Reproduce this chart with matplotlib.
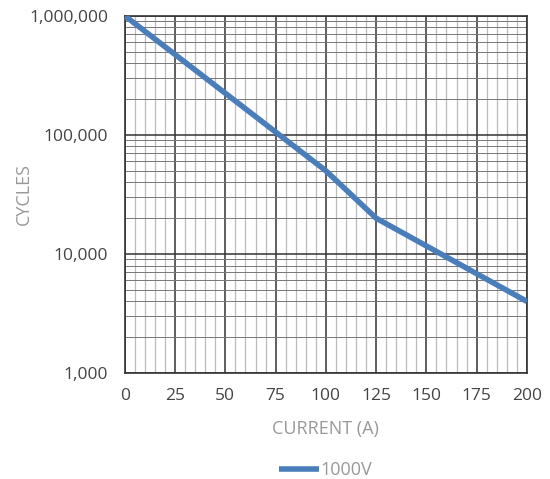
import numpy as np
import matplotlib.pyplot as plt
from matplotlib.ticker import FixedLocator, LogLocator, NullFormatter, FuncFormatter

plt.rcParams['font.family'] = ['Open Sans', 'DejaVu Sans']

# data
current = [0, 100, 125, 200]
cycles = [1000000, 50000, 20000, 4000]
series_name = '1000V'
x_ticks = [0, 25, 50, 75, 100, 125, 150, 175, 200]
y_ticks = [1000, 10000, 100000, 1000000]

fig = plt.figure(figsize=(5.5, 4.79), dpi=100)
ax = fig.add_axes([0.227, 0.221, 0.731, 0.746])

ax.plot(current, cycles, color='#4a7ebb', linewidth=4, solid_capstyle='butt',
        label=series_name, zorder=5)

ax.set_yscale('log')
ax.set_xlim(0, 200)
ax.set_ylim(1000, 1000000)

ax.xaxis.set_major_locator(FixedLocator(x_ticks))
ax.xaxis.set_minor_locator(FixedLocator(np.arange(0, 201, 5)))
ax.yaxis.set_major_locator(FixedLocator(y_ticks))
ax.yaxis.set_minor_locator(LogLocator(base=10, subs=np.arange(2, 10)))
ax.yaxis.set_minor_formatter(NullFormatter())
ax.yaxis.set_major_formatter(FuncFormatter(lambda v, p: f'{int(round(v)):,}'))

ax.grid(True, which='major', axis='both', color='#333333', linewidth=1.1)
ax.grid(True, which='minor', axis='x', color='#bbbbbb', linewidth=0.9)
ax.grid(True, which='minor', axis='y', color='#777777', linewidth=0.7)
ax.set_axisbelow(True)

ax.tick_params(axis='x', which='both', length=0, labelsize=12.5, colors='#444444', pad=11)
ax.tick_params(axis='y', which='both', length=0, labelsize=12.5, colors='#444444', pad=12)
for s in ax.spines.values():
    s.set_color('#333333')
    s.set_linewidth(1.2)

ax.set_xlabel('CURRENT (A)', fontsize=13, color='#999999', labelpad=11)
ax.set_ylabel('CYCLES', fontsize=13, color='#999999')
ax.yaxis.set_label_coords(-0.23, 0.5)

ax.legend(loc='upper center', bbox_to_anchor=(0.5, -0.2), frameon=False,
          fontsize=13, handlelength=2.2, handletextpad=0.1, labelcolor='#999999')

fig.savefig('out.png', dpi=100)
